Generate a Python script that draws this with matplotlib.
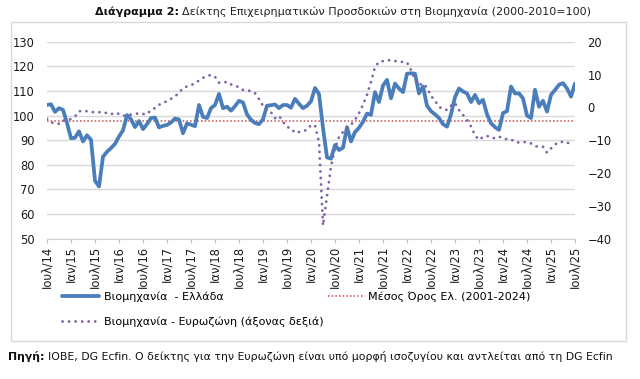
import matplotlib
matplotlib.use('Agg')
import matplotlib.pyplot as plt
from matplotlib.lines import Line2D
from matplotlib.patches import Rectangle
import numpy as np

plt.rcParams['font.family'] = ['DejaVu Sans']

# Monthly data, Jul 2014 ... Jul 2025
greece = [104.3, 104.6, 101.5, 103.0, 102.3, 97.0, 90.8, 91.0, 93.6, 89.5,
          92.0, 90.2, 73.5, 71.2, 83.3, 85.3, 86.8, 88.5, 91.5, 94.0,
          100.2, 98.5, 95.3, 97.8, 94.5, 96.5, 99.0, 99.2, 95.2, 95.8,
          96.2, 97.2, 98.8, 98.4, 92.8, 96.8, 96.3, 95.7, 104.3, 99.5,
          99.0, 103.0, 104.3, 108.8, 103.0, 103.6, 102.0, 103.8, 106.0, 105.3,
          100.5, 98.3, 97.0, 96.5, 98.5, 104.0, 104.2, 104.5, 103.0, 104.3,
          104.3, 103.2, 106.8, 104.8, 103.0, 104.0, 105.8, 111.2, 108.8, 95.0,
          83.0, 82.5, 88.0, 86.0, 87.0, 95.3, 89.5, 93.3, 95.0, 97.5,
          100.8, 100.3, 109.5, 105.5, 112.2, 114.5, 107.0, 113.0, 111.0, 109.5,
          117.0, 117.2, 117.0, 109.0, 111.8, 104.0, 101.8, 100.5, 99.0, 96.5,
          95.5, 100.5, 107.5, 111.0, 109.8, 109.0, 105.5, 108.4, 105.0, 106.4,
          100.5, 96.9, 95.3, 94.2, 101.0, 101.8, 111.8, 109.0, 109.0, 107.0,
          100.0, 99.0, 110.5, 103.6, 106.0, 101.6, 108.4, 110.4, 112.5, 113.2,
          111.0, 107.7, 113.0]

eurozone = [-3.5, -4.5, -5.0, -5.0, -4.0, -4.0, -3.5, -2.8, -1.2, -1.0,
            -1.2, -1.4, -1.5, -1.5, -1.4, -1.8, -2.1, -1.6, -2.0, -2.6,
            -2.4, -2.2, -2.0, -1.8, -2.0, -2.1, -0.8, -0.2, 0.8, 1.2,
            2.0, 2.6, 3.3, 4.5, 5.8, 6.4, 6.8, 7.3, 8.2, 9.0,
            9.5, 9.9, 9.3, 7.5, 7.5, 7.8, 7.0, 6.5, 6.2, 5.3,
            5.1, 5.0, 4.3, 2.5, 0.5, -1.0, -1.5, -3.3, -2.6, -4.4,
            -6.0, -6.3, -7.8, -7.5, -7.2, -6.9, -5.4, -5.5, -10.5, -36.0,
            -27.0, -18.0, -12.5, -9.0, -7.5, -6.3, -5.3, -3.8, -1.8, 0.8,
            3.8, 7.8, 12.3, 13.9, 14.1, 14.3, 14.4, 14.1, 14.0, 13.8,
            13.7, 11.4, 8.4, 6.8, 7.3, 6.0, 3.5, 2.0, 0.2, -0.6,
            -0.8, 0.5, 1.3, -0.8, -2.3, -3.8, -5.8, -8.5, -9.9, -9.0,
            -8.7, -9.2, -9.4, -8.9, -9.5, -9.7, -9.7, -10.6, -10.7, -10.6,
            -10.5, -11.0, -11.8, -12.0, -12.0, -13.8, -12.5, -11.3, -10.6, -10.5,
            -10.5, -11.8]

mean_greece = 97.8

tick_labels = ['Ιουλ/14', 'Ιαν/15', 'Ιουλ/15', 'Ιαν/16', 'Ιουλ/16', 'Ιαν/17',
               'Ιουλ/17', 'Ιαν/18', 'Ιουλ/18', 'Ιαν/19', 'Ιουλ/19', 'Ιαν/20',
               'Ιουλ/20', 'Ιαν/21', 'Ιουλ/21', 'Ιαν/22', 'Ιουλ/22', 'Ιαν/23',
               'Ιουλ/23', 'Ιαν/24', 'Ιουλ/24', 'Ιαν/25', 'Ιουλ/25']

label_gr = 'Βιομηχανία  - Ελλάδα'
label_mean = 'Μέσος Όρος Ελ. (2001-2024)'
label_eu = 'Βιομηχανία - Ευρωζώνη (άξονας δεξιά)'

W, H = 640, 379
fig = plt.figure(figsize=(W / 100, H / 100), dpi=100)

# outer chart border
fig.patches.append(Rectangle((11 / W, 1 - 341 / H), (626 - 11) / W, (341 - 22) / H,
                             transform=fig.transFigure, fill=False,
                             edgecolor='#D9D9D9', lw=1))

ax = fig.add_axes([47 / W, 1 - 238.7 / H, (575 - 47) / W, (238.7 - 41.7) / H])
ax.patch.set_alpha(0)
xg = np.arange(len(greece))
xe = np.arange(len(eurozone))

blue = '#4A7EBB'
purple = '#7F63A6'
red = '#C0504D'

h_gr, = ax.plot(xg, greece, color=blue, lw=2.7, solid_joinstyle='round',
                solid_capstyle='round', zorder=3)
ax.axhline(mean_greece, color=red, lw=1.1, ls=(0, (1, 1.4)), zorder=2)

ax.set_xlim(0, len(greece) - 1)
ax.set_ylim(50, 130)
ax.set_yticks(np.arange(50, 131, 10))
ax.grid(axis='y', color='#D9D9D9', lw=1, zorder=0)
ax.set_xticks(np.arange(0, len(greece), 6))
ax.set_xticklabels(tick_labels, rotation=90)
ax.tick_params(axis='x', length=3, color='#BFBFBF', pad=2, labelsize=8.3,
               labelcolor='#1A1A1A')
ax.tick_params(axis='y', length=0, pad=9, labelsize=8.3, labelcolor='#1A1A1A')
for s in ['top', 'left', 'right']:
    ax.spines[s].set_visible(False)
ax.spines['bottom'].set_color('#D0D0D0')

ax2 = ax.twinx()
ax2.patch.set_alpha(0)
h_eu, = ax2.plot(xe, eurozone, color=purple, lw=2.0, ls=(0, (0.05, 2.3)),
                 dash_capstyle='round', zorder=3)
ax2.set_ylim(-40, 20)
ax2.set_yticks(np.arange(-40, 21, 10))
ax2.tick_params(axis='y', length=0, pad=9, labelsize=8.3, labelcolor='#1A1A1A')
for s in ax2.spines.values():
    s.set_visible(False)

h_mean = Line2D([], [], color=red, lw=1.1, ls=(0, (1, 1.4)))

leg1 = fig.legend([h_gr, h_eu], [label_gr, label_eu], loc='upper left',
                  bbox_to_anchor=(62 / W, 1 - 291 / H), frameon=False, fontsize=8,
                  handlelength=3.3, handletextpad=0.5, labelspacing=1.35,
                  borderpad=0, borderaxespad=0)
fig.legend([h_mean], [label_mean], loc='upper left',
           bbox_to_anchor=(328 / W, 1 - 291 / H), frameon=False, fontsize=8,
           handlelength=3.3, handletextpad=0.3, borderpad=0, borderaxespad=0)

# title in two parts, centred on the reference span (x 88..598)
fig.canvas.draw()
r = fig.canvas.get_renderer()
tsize = 8.0
t1 = fig.text(0, 1 - 12 / H, 'Διάγραμμα 2:', fontsize=tsize, weight='bold',
              va='center', ha='left', color='#111111')
t2 = fig.text(0, 1 - 12 / H,
              'Δείκτης Επιχειρηματικών Προσδοκιών στη Βιομηχανία (2000-2010=100)',
              fontsize=tsize, va='center', ha='left', color='#222222')
w1 = t1.get_window_extent(r).width
w2 = t2.get_window_extent(r).width
gap = 3
total = w1 + gap + w2
x0 = 343 - total / 2
t1.set_x(x0 / W)
t2.set_x((x0 + w1 + gap) / W)

f1 = fig.text(8 / W, 1 - 356 / H, 'Πηγή:', fontsize=7.8, weight='bold',
              va='center', ha='left', color='#111111')
bb = f1.get_window_extent(r)
fig.text(bb.x1 / W + 3 / W, 1 - 356 / H,
         'ΙΟΒΕ, DG Ecfin. Ο δείκτης για την Ευρωζώνη είναι υπό μορφή ισοζυγίου και αντλείται από τη DG Ecfin',
         fontsize=7.8, va='center', ha='left', color='#111111')

fig.savefig('out.png', dpi=100)
